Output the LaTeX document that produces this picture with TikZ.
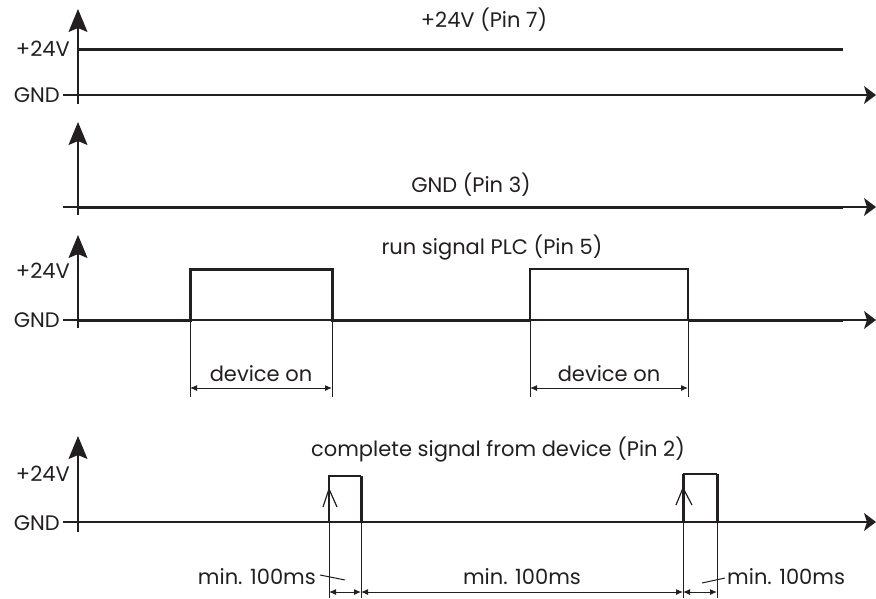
\documentclass[tikz,border=0pt]{standalone}
\usepackage{fontspec}
\setmainfont{Poppins}
\usetikzlibrary{arrows.meta}
\definecolor{sigblack}{RGB}{35,31,32}

\begin{document}
\begin{tikzpicture}[x=1pt,y=-1pt,
    every node/.style={font=\fontsize{21}{23}\selectfont, inner sep=0pt, text=sigblack},
    axisv/.style={sigblack, line width=1.3pt, -{Stealth[length=23pt,width=19pt,inset=4pt]}},
    axish/.style={sigblack, line width=1.3pt, -{Stealth[length=12pt,width=18pt,inset=3pt]}},
    sighi/.style={sigblack, line width=3pt},
    sigmid/.style={sigblack, line width=2.4pt},
    siglo/.style={sigblack, line width=1.2pt},
    extline/.style={sigblack, line width=1pt},
    dimline/.style={sigblack, line width=1pt, {Latex[length=7pt,width=6pt]}-{Latex[length=7pt,width=6pt]}}]
  \useasboundingbox (0,0) rectangle (876,598);

  \draw[axisv] (78,104) -- (78,9);
  \draw[axish] (63,95) -- (876,95);
  \draw[sighi] (78,49) -- (843,49);
  \node[anchor=east] (hione) at (70,49) {+24V};
  \node[anchor=east] (gndone) at (60,95) {GND};
  \node (titleone) at (484,20) {+24V (Pin 7)};

  \draw[axisv] (78,215) -- (78,122);
  \draw[axish] (63,207) -- (876,207);
  \draw[sighi] (78,207) -- (843,207);
  \node (titletwo) at (471,185) {GND (Pin 3)};

  \draw[axisv] (78,328) -- (78,235);
  \draw[axish] (63,320) -- (876,320);
  \draw[sighi] (78,320) -- (190,320) -- (190,269) -- (332,269) -- (332,320) -- (530,320);
  \draw[siglo] (530,320) -- (530,269) -- (688,269) -- (688,320);
  \draw[sighi] (688,320) -- (843,320);
  \node[anchor=east] (hithree) at (70,271) {+24V};
  \node[anchor=east] (gndthree) at (60,320) {GND};
  \node (titlethree) at (492,248) {run signal PLC (Pin 5)};
  \draw[extline] (190,320) -- (190,397);
  \draw[extline] (332,320) -- (332,397);
  \draw[extline] (530,320) -- (530,397);
  \draw[extline] (688,320) -- (688,397);
  \draw[dimline] (190,388) -- (332,388);
  \draw[dimline] (530,388) -- (688,388);
  \node (onleft) at (261,374) {device on};
  \node (onright) at (609,374) {device on};

  \draw[axisv] (78,532) -- (78,436);
  \draw[axish] (63,522) -- (876,522);
  \draw[sigmid] (78,522) -- (329,522);
  \draw[sigmid] (361,522) -- (683,522);
  \draw[sigmid] (717,522) -- (843,522);
  \draw[siglo] (329,522) -- (329,476) -- (361,476);
  \draw[sighi] (361,476) -- (361,522);
  \draw[sighi] (683,522) -- (683,474);
  \draw[siglo] (683,474) -- (717,474);
  \draw[sighi] (717,474) -- (717,522);
  \draw[siglo] (323,507) -- (329,489) -- (337,507);
  \draw[siglo] (676,505) -- (683,488) -- (692,505);
  \node[anchor=east] (hifour) at (70,474) {+24V};
  \node[anchor=east] (gndfour) at (60,523) {GND};
  \node (titlefour) at (498,450) {complete signal from device (Pin 2)};
  \draw[extline] (329,476) -- (329,598);
  \draw[extline] (361,476) -- (361,598);
  \draw[extline] (683,474) -- (683,598);
  \draw[extline] (717,474) -- (717,598);
  \draw[dimline] (329,592) -- (361,592);
  \draw[dimline] (361,592) -- (683,592);
  \draw[dimline] (683,592) -- (717,592);
  \node[anchor=east] (minone) at (316,577) {min. 100ms};
  \node (mintwo) at (522,577) {min. 100ms};
  \node[anchor=west] (minthree) at (727,577) {min. 100ms};
  \draw[extline] (320,575) -- (345,580);
  \draw[extline] (725,578) -- (702,583);
\end{tikzpicture}
\end{document}
